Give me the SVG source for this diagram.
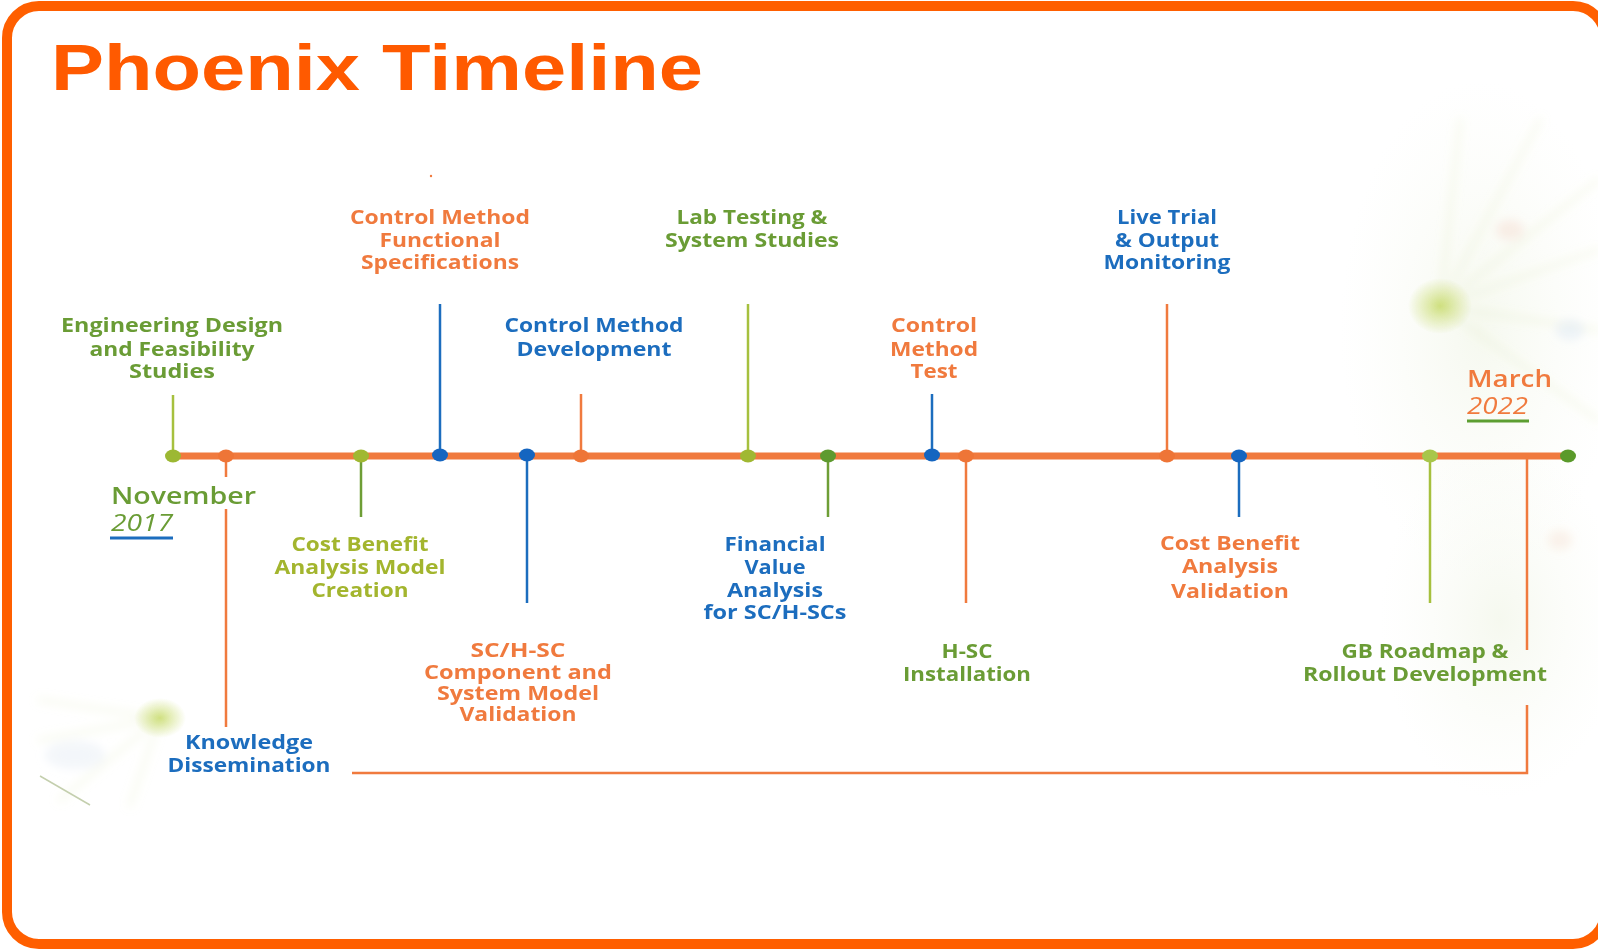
<svg xmlns="http://www.w3.org/2000/svg" width="1598" height="949" viewBox="0 0 1598 949">
<defs>
<style>
.t{font-family:"Open Sans","Liberation Sans",sans-serif;font-weight:700;font-size:19.5px;text-anchor:middle}
.d{font-family:"Open Sans","Liberation Sans",sans-serif;font-weight:600;font-size:24px}
.o{fill:#F07A3E}.b{fill:#1C6DBE}.g{fill:#6A9C35}.y{fill:#A3B52E}
.lo{stroke:#F07A3E}.lb{stroke:#1C6DBE}.lg{stroke:#6E9E36}.ly{stroke:#A6C03E}
.v{stroke-width:2.5;fill:none}
.ray{stroke:#E2EBC0;stroke-width:5;stroke-linecap:round;opacity:0.25}
</style>
<radialGradient id="glowG" cx="0.5" cy="0.5" r="0.5">
<stop offset="0" stop-color="#C6DA66" stop-opacity="0.8"/>
<stop offset="1" stop-color="#C6DA66" stop-opacity="0"/>
</radialGradient>
<radialGradient id="wash" cx="0.5" cy="0.5" r="0.5">
<stop offset="0" stop-color="#EEF3E2" stop-opacity="0.55"/>
<stop offset="1" stop-color="#F6F9F0" stop-opacity="0"/>
</radialGradient>
<filter id="blur" x="-20%" y="-20%" width="140%" height="140%"><feGaussianBlur stdDeviation="5"/></filter>
</defs>
<rect x="0" y="0" width="1598" height="949" fill="#FFFFFF"/>
<g id="background">
<ellipse cx="1480" cy="330" rx="140" ry="250" fill="url(#wash)"/>
<ellipse cx="1500" cy="620" rx="120" ry="180" fill="url(#wash)"/>
<g filter="url(#blur)">
<line class="ray" x1="1440" y1="306" x2="1598" y2="180"/>
<line class="ray" x1="1440" y1="306" x2="1598" y2="250"/>
<line class="ray" x1="1440" y1="306" x2="1598" y2="330"/>
<line class="ray" x1="1440" y1="306" x2="1598" y2="420"/>
<line class="ray" x1="1440" y1="306" x2="1540" y2="120"/>
<line class="ray" x1="1440" y1="306" x2="1460" y2="120"/>
<line class="ray" x1="160" y1="718" x2="40" y2="700"/>
<line class="ray" x1="160" y1="718" x2="40" y2="740"/>
<line class="ray" x1="160" y1="718" x2="60" y2="800"/>
<line class="ray" x1="160" y1="718" x2="130" y2="805"/>
<ellipse cx="1510" cy="230" rx="14" ry="10" fill="#F6D8C8" opacity="0.4"/>
<ellipse cx="1570" cy="330" rx="14" ry="10" fill="#D8E4F2" opacity="0.4"/>
<ellipse cx="1560" cy="540" rx="12" ry="10" fill="#F6DCCC" opacity="0.35"/>
<ellipse cx="75" cy="755" rx="30" ry="14" fill="#E0E8F2" opacity="0.4"/>
</g>
<ellipse cx="1440" cy="306" rx="32" ry="28" fill="url(#glowG)"/>
<ellipse cx="160" cy="718" rx="26" ry="20" fill="url(#glowG)"/>
<line x1="40" y1="776" x2="90" y2="805" stroke="#C4CFAE" stroke-width="1.5"/>
</g>
<rect id="frame" x="7" y="6" width="1598" height="938" rx="32" fill="none" stroke="#FF5F00" stroke-width="10"/>
<text id="title" x="51" y="90" font-family="'Liberation Sans',Arial,sans-serif" font-weight="700" font-size="64" fill="#FF5A00" textLength="652" lengthAdjust="spacingAndGlyphs">Phoenix Timeline</text>
<circle cx="431" cy="176" r="1.2" fill="#F07A3E"/>
<g id="connectors">
<line class="lo" x1="173" y1="456" x2="1568" y2="456" stroke-width="7"/>
<line class="ly v" x1="173" y1="395" x2="173" y2="456"/>
<line class="lb v" x1="440" y1="304" x2="440" y2="456"/>
<line class="lo v" x1="581" y1="394" x2="581" y2="456"/>
<line class="ly v" x1="748" y1="304" x2="748" y2="456"/>
<line class="lb v" x1="932" y1="394" x2="932" y2="456"/>
<line class="lo v" x1="1167" y1="304" x2="1167" y2="456"/>
<line class="lo v" x1="226" y1="456" x2="226" y2="477"/>
<line class="lo v" x1="226" y1="509" x2="226" y2="727"/>
<line class="lg v" x1="361" y1="456" x2="361" y2="517"/>
<line class="lb v" x1="527" y1="456" x2="527" y2="603"/>
<line class="lg v" x1="828" y1="456" x2="828" y2="517"/>
<line class="lo v" x1="966" y1="456" x2="966" y2="603"/>
<line class="lb v" x1="1239" y1="456" x2="1239" y2="517"/>
<line class="ly v" x1="1430" y1="456" x2="1430" y2="603"/>
<polyline class="lo v" points="1527,456 1527,650"/>
<polyline class="lo v" points="1527,705 1527,773 352,773"/>
<line x1="1467" y1="421" x2="1529" y2="421" stroke="#5C9E31" stroke-width="3"/>
<line x1="110" y1="538" x2="173" y2="538" stroke="#1C6DBE" stroke-width="3"/>
</g>
<g id="dots">
<ellipse cx="173" cy="456" rx="8" ry="6.5" fill="#9CB833"/>
<ellipse cx="226" cy="456" rx="8" ry="6.5" fill="#EE7537"/>
<ellipse cx="361" cy="456" rx="8" ry="6.5" fill="#A0B832"/>
<ellipse cx="440" cy="455" rx="8" ry="6.5" fill="#1565C0"/>
<ellipse cx="527" cy="455" rx="8" ry="6.5" fill="#1565C0"/>
<ellipse cx="581" cy="456" rx="8" ry="6.5" fill="#EE7537"/>
<ellipse cx="748" cy="456" rx="8" ry="6.5" fill="#A0B832"/>
<ellipse cx="828" cy="456" rx="8" ry="6.5" fill="#5E9A2F"/>
<ellipse cx="932" cy="455" rx="8" ry="6.5" fill="#1565C0"/>
<ellipse cx="966" cy="456" rx="8" ry="6.5" fill="#EE7537"/>
<ellipse cx="1167" cy="456" rx="8" ry="6.5" fill="#EE7537"/>
<ellipse cx="1239" cy="456" rx="8" ry="6.5" fill="#1565C0"/>
<ellipse cx="1430" cy="456" rx="8" ry="6.5" fill="#A8C64A"/>
<ellipse cx="1568" cy="456" rx="8" ry="6.5" fill="#5A9A2A"/>
</g>
<g id="n-engineering" class="t g">
<text x="172" y="332" textLength="222" lengthAdjust="spacingAndGlyphs">Engineering Design</text>
<text x="172" y="356" textLength="165" lengthAdjust="spacingAndGlyphs">and Feasibility</text>
<text x="172" y="378" textLength="86" lengthAdjust="spacingAndGlyphs">Studies</text>
</g>
<g id="n-cmfs" class="t o">
<text x="440" y="224" textLength="180" lengthAdjust="spacingAndGlyphs">Control Method</text>
<text x="440" y="247" textLength="121" lengthAdjust="spacingAndGlyphs">Functional</text>
<text x="440" y="269" textLength="158" lengthAdjust="spacingAndGlyphs">Specifications</text>
</g>
<g id="n-cmd" class="t b">
<text x="594" y="332" textLength="179" lengthAdjust="spacingAndGlyphs">Control Method</text>
<text x="594" y="356" textLength="155" lengthAdjust="spacingAndGlyphs">Development</text>
</g>
<g id="n-lab" class="t g">
<text x="752" y="224" textLength="151" lengthAdjust="spacingAndGlyphs">Lab Testing &amp;</text>
<text x="752" y="247" textLength="174" lengthAdjust="spacingAndGlyphs">System Studies</text>
</g>
<g id="n-cmt" class="t o">
<text x="934" y="332" textLength="86" lengthAdjust="spacingAndGlyphs">Control</text>
<text x="934" y="356" textLength="88" lengthAdjust="spacingAndGlyphs">Method</text>
<text x="934" y="378" textLength="47" lengthAdjust="spacingAndGlyphs">Test</text>
</g>
<g id="n-live" class="t b">
<text x="1167" y="224" textLength="100" lengthAdjust="spacingAndGlyphs">Live Trial</text>
<text x="1167" y="247" textLength="104" lengthAdjust="spacingAndGlyphs">&amp; Output</text>
<text x="1167" y="269" textLength="127" lengthAdjust="spacingAndGlyphs">Monitoring</text>
</g>
<g id="n-march" class="d o">
<text x="1467" y="387" textLength="85" lengthAdjust="spacingAndGlyphs">March</text>
<text x="1467" y="414" font-style="italic" font-weight="400" textLength="61" lengthAdjust="spacingAndGlyphs">2022</text>
</g>
<g id="n-november" class="d g">
<text x="111" y="504" textLength="145" lengthAdjust="spacingAndGlyphs">November</text>
<text x="111" y="531" font-style="italic" font-weight="400" textLength="62" lengthAdjust="spacingAndGlyphs">2017</text>
</g>
<g id="n-cbm" class="t y">
<text x="360" y="551" textLength="137" lengthAdjust="spacingAndGlyphs">Cost Benefit</text>
<text x="360" y="574" textLength="171" lengthAdjust="spacingAndGlyphs">Analysis Model</text>
<text x="360" y="597" textLength="97" lengthAdjust="spacingAndGlyphs">Creation</text>
</g>
<g id="n-schsc" class="t o">
<text x="518" y="657" textLength="95" lengthAdjust="spacingAndGlyphs">SC/H-SC</text>
<text x="518" y="679" textLength="188" lengthAdjust="spacingAndGlyphs">Component and</text>
<text x="518" y="700" textLength="162" lengthAdjust="spacingAndGlyphs">System Model</text>
<text x="518" y="721" textLength="117" lengthAdjust="spacingAndGlyphs">Validation</text>
</g>
<g id="n-financial" class="t b">
<text x="775" y="551" textLength="101" lengthAdjust="spacingAndGlyphs">Financial</text>
<text x="775" y="574" textLength="61" lengthAdjust="spacingAndGlyphs">Value</text>
<text x="775" y="597" textLength="96" lengthAdjust="spacingAndGlyphs">Analysis</text>
<text x="775" y="619" textLength="143" lengthAdjust="spacingAndGlyphs">for SC/H-SCs</text>
</g>
<g id="n-hsc" class="t g">
<text x="967" y="658" textLength="51" lengthAdjust="spacingAndGlyphs">H-SC</text>
<text x="967" y="681" textLength="128" lengthAdjust="spacingAndGlyphs">Installation</text>
</g>
<g id="n-cbv" class="t o">
<text x="1230" y="550" textLength="140" lengthAdjust="spacingAndGlyphs">Cost Benefit</text>
<text x="1230" y="573" textLength="96" lengthAdjust="spacingAndGlyphs">Analysis</text>
<text x="1230" y="598" textLength="118" lengthAdjust="spacingAndGlyphs">Validation</text>
</g>
<g id="n-gb" class="t g">
<text x="1425" y="658" textLength="167" lengthAdjust="spacingAndGlyphs">GB Roadmap &amp;</text>
<text x="1425" y="681" textLength="244" lengthAdjust="spacingAndGlyphs">Rollout Development</text>
</g>
<g id="n-knowledge" class="t b">
<text x="249" y="749" textLength="128" lengthAdjust="spacingAndGlyphs">Knowledge</text>
<text x="249" y="772" textLength="163" lengthAdjust="spacingAndGlyphs">Dissemination</text>
</g>
</svg>
